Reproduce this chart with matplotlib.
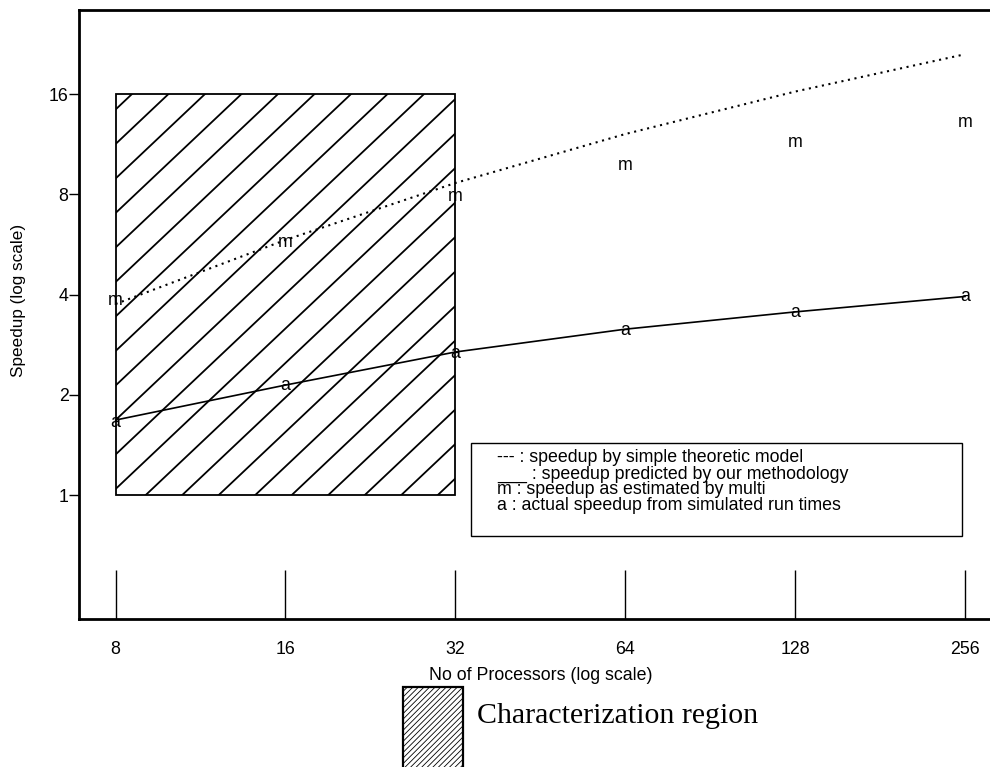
import matplotlib
matplotlib.use("Agg")
import numpy as np
import matplotlib.pyplot as plt
from matplotlib.patches import Rectangle
from matplotlib.transforms import offset_copy, IdentityTransform
from matplotlib.ticker import NullLocator

# --- data --------------------------------------------------------------
procs = [8, 16, 32, 64, 128, 256]
theory = [3.75, 5.84, 8.66, 12.15, 16.3, 21.1]      # dotted: simple theoretic model
predicted = [1.68, 2.14, 2.69, 3.15, 3.55, 3.95]    # solid: our methodology
multi = [3.85, 5.76, 7.87, 9.8, 11.5, 13.2]         # "m" points
actual = [1.65, 2.14, 2.67, 3.13, 3.55, 3.95]       # "a" points
region_x = [8, 32]                                  # characterization region
region_y = [1, 16]
speedup_ticks = [1, 2, 4, 8, 16]
legend_lines = [
    "--- : speedup by simple theoretic model",
    "___ : speedup predicted by our methodology",
    "m : speedup as estimated by multi",
    "a : actual speedup from simulated run times",
]

W, H = 990, 767
plt.rcParams["font.family"] = ["Liberation Sans", "DejaVu Sans"]
plt.rcParams["hatch.linewidth"] = 0.6
FS = 12.8

fig = plt.figure(figsize=(W / 100, H / 100), dpi=100)
# axes box in pixels: left 79, right 990 (cut), top 10, bottom 619
ax = fig.add_axes([79 / W, 1 - 619 / H, (990 - 79) / W, (619 - 10) / H])
ax.set_xscale("log", base=2)
ax.set_yscale("log", base=2)
ax.set_xlim(6.89, 283.5)
ax.set_ylim(0.4242, 28.66)

ax.set_xticks(procs, labels=[str(p) for p in procs])
ax.set_yticks(speedup_ticks, labels=[str(t) for t in speedup_ticks])
ax.xaxis.set_minor_locator(NullLocator())
ax.yaxis.set_minor_locator(NullLocator())
ax.tick_params(axis="x", direction="in", length=35, width=1.0, pad=16, labelsize=FS)
ax.tick_params(axis="y", direction="out", length=7, width=1.0, pad=0.5, labelsize=FS)
for side in ["left", "top", "bottom"]:
    ax.spines[side].set_linewidth(2.0)
ax.spines["right"].set_visible(False)

# --- characterization region with hand-drawn hatching ------------------
rect = Rectangle((region_x[0], region_y[0]), region_x[1] - region_x[0],
                 region_y[1] - region_y[0], fill=False, lw=1.3, ec="black", zorder=2)
ax.add_patch(rect)
(x0, y0), (x1, y1) = ax.transData.transform([(region_x[0], region_y[0]),
                                             (region_x[1], region_y[1])])
slope, step = 0.945, 34.5
c_low = y0 - slope * (x1 - x0) - step
c = c_low - ((c_low - 278) % step)
while c < y1 + step:
    xs = np.array([x0 - 5, x1 + 5])
    ln, = ax.plot(xs, c + slope * (xs - x0), color="black", lw=1.3,
                  transform=IdentityTransform(), zorder=2)
    ln.set_clip_path(rect)
    c += step

# --- curves and letter markers -----------------------------------------
ax.plot(procs, theory, color="black", lw=1.5, linestyle=(0, (1, 2.2)), zorder=3)
ax.plot(procs, predicted, color="black", lw=1.2, zorder=3)

glyph_tr = offset_copy(ax.transData, fig=fig, x=0, y=-0.26 * FS, units="points")
for p, m in zip(procs, multi):
    ax.text(p, m, "m", ha="center", va="baseline", fontsize=FS, transform=glyph_tr, zorder=4)
for p, a in zip(procs, actual):
    ax.text(p, a, "a", ha="center", va="baseline", fontsize=FS, transform=glyph_tr, zorder=4)

# --- text legend box ----------------------------------------------------
fig.add_artist(Rectangle((471 / W, 1 - 536 / H), (962 - 471) / W, (536 - 443) / H,
                         transform=fig.transFigure, fill=False, lw=1.0, ec="black"))
for i, line in enumerate(legend_lines):
    fig.text(497 / W, 1 - (458 + 16 * i) / H, line, fontsize=FS,
             va="center", ha="left")

# --- axis labels ---------------------------------------------------------
fig.text(541 / W, 1 - 675 / H, "No of Processors (log scale)", fontsize=FS,
         ha="center", va="center")
fig.text(19 / W, 1 - 300 / H, "Speedup (log scale)", fontsize=FS - 0.5,
         rotation=90, ha="center", va="center")

# --- bottom key for the shaded region ----------------------------------
fig.add_artist(Rectangle((403 / W, 1 - 790 / H), 60 / W, (790 - 687) / H,
                         transform=fig.transFigure, fill=False, hatch="//////",
                         lw=1.6, ec="black"))
fig.text(477 / W, 1 - 716 / H, "Characterization region", fontsize=21.5,
         family=["Liberation Serif", "DejaVu Serif"], ha="left", va="center")

fig.savefig("out.png", dpi=100)
